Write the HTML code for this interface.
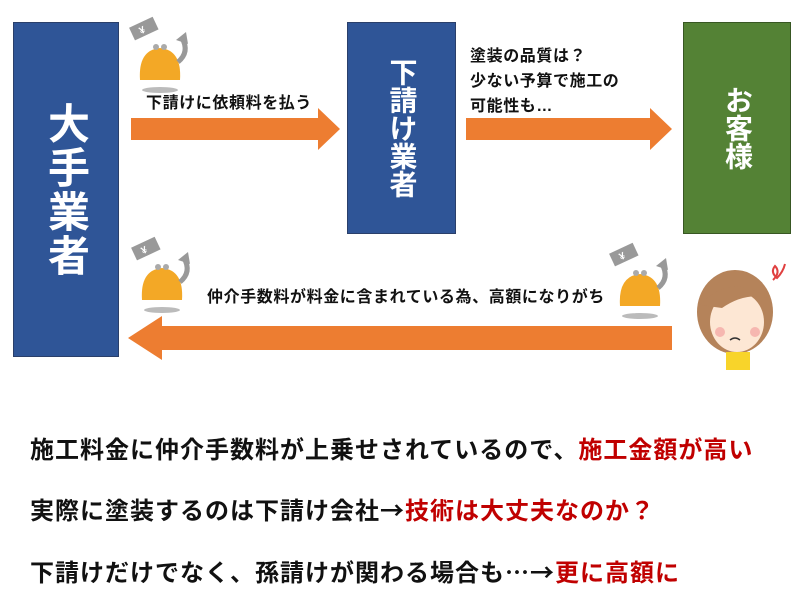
<!DOCTYPE html>
<html><head><meta charset="utf-8"><style>
body{margin:0;width:800px;height:600px;background:#fff;position:relative;overflow:hidden;font-family:"Liberation Sans","Noto Sans CJK JP",sans-serif;font-weight:bold}
.b{position:absolute;border:1px solid #2a3f6a;color:#fff;display:flex;align-items:center;justify-content:center;writing-mode:vertical-rl;text-orientation:upright}
.t{position:absolute;font-size:16px;color:#111;white-space:nowrap;letter-spacing:0.6px}
.l{position:absolute;left:30px;font-size:24px;letter-spacing:1px;color:#111;white-space:nowrap;font-family:"Noto Sans CJK JP",sans-serif}
.r{color:#c00000}
</style></head><body>
<div class="b" style="left:13px;top:22px;width:104px;height:333px;background:#2f5597;font-size:42px;letter-spacing:2px">大手業者</div>
<div class="b" style="left:347px;top:22px;width:107px;height:210px;background:#2f5597;font-size:28px">下請け業者</div>
<div class="b" style="left:683px;top:22px;width:106px;height:210px;background:#548235;border-color:#385723;font-size:28px">お客様</div>
<svg width="800" height="600" style="position:absolute;left:0;top:0">
<defs>
<g id="p">
<ellipse cx="0" cy="48" rx="18" ry="3" fill="#bbb"/>
<rect x="-22" y="-26" width="26" height="14" fill="#999" transform="rotate(-25)"/>
<text x="-14" y="-15" font-size="10" fill="#fff" transform="rotate(-25)">¥</text>
<path d="M-20,38 Q-22,8 0,6 Q22,8 20,38 Z" fill="#f3a826"/>
<circle cx="-4" cy="5" r="3" fill="#aaa"/><circle cx="4" cy="5" r="3" fill="#aaa"/>
<path d="M18,20 Q30,10 22,-4" stroke="#999" stroke-width="5" fill="none"/>
<polygon points="16,-2 26,-10 28,2" fill="#999"/>
</g>
</defs>
<polygon points="131,118 318,118 318,108 340,129 318,150 318,140 131,140" fill="#ed7d31"/>
<polygon points="466,118 650,118 650,108 672,129 650,150 650,140 466,140" fill="#ed7d31"/>
<polygon points="672,326 162,326 162,316 128,338 162,360 162,350 672,350" fill="#ed7d31"/>
<use href="#p" x="160" y="42"/>
<use href="#p" x="162" y="262"/>
<use href="#p" x="640" y="268"/>
<g>
<ellipse cx="735" cy="312" rx="38" ry="42" fill="#b5835a"/>
<ellipse cx="737" cy="322" rx="27" ry="30" fill="#fde7d4"/>
<path d="M700,305 Q730,272 768,298 Q745,292 722,308 Z" fill="#b5835a"/>
<rect x="726" y="352" width="24" height="18" fill="#f8d42a"/>
<circle cx="720" cy="332" r="5" fill="#f6b7b0"/><circle cx="755" cy="332" r="5" fill="#f6b7b0"/>
<path d="M730,340 q5,-4 10,0" stroke="#333" stroke-width="1.5" fill="none"/>
<path d="M773,280 q8,-8 2,-14 q-5,6 2,12 q6,-6 8,-14" stroke="#e04040" stroke-width="2" fill="none"/>
</g>
</svg>
<div class="t" style="left:146px;top:89px">下請けに依頼料を払う</div>
<div class="t" style="left:470px;top:44px;line-height:25px">塗装の品質は？<br>少ない予算で施工の<br>可能性も…</div>
<div class="t" style="left:207px;top:283px">仲介手数料が料金に含まれている為、高額になりがち</div>
<div class="l" style="top:430px">施工料金に仲介手数料が上乗せされているので、<span class="r">施工金額が高い</span></div>
<div class="l" style="top:491px">実際に塗装するのは下請け会社→<span class="r">技術は大丈夫なのか？</span></div>
<div class="l" style="top:553px">下請けだけでなく、孫請けが関わる場合も…→<span class="r">更に高額に</span></div>
</body></html>
